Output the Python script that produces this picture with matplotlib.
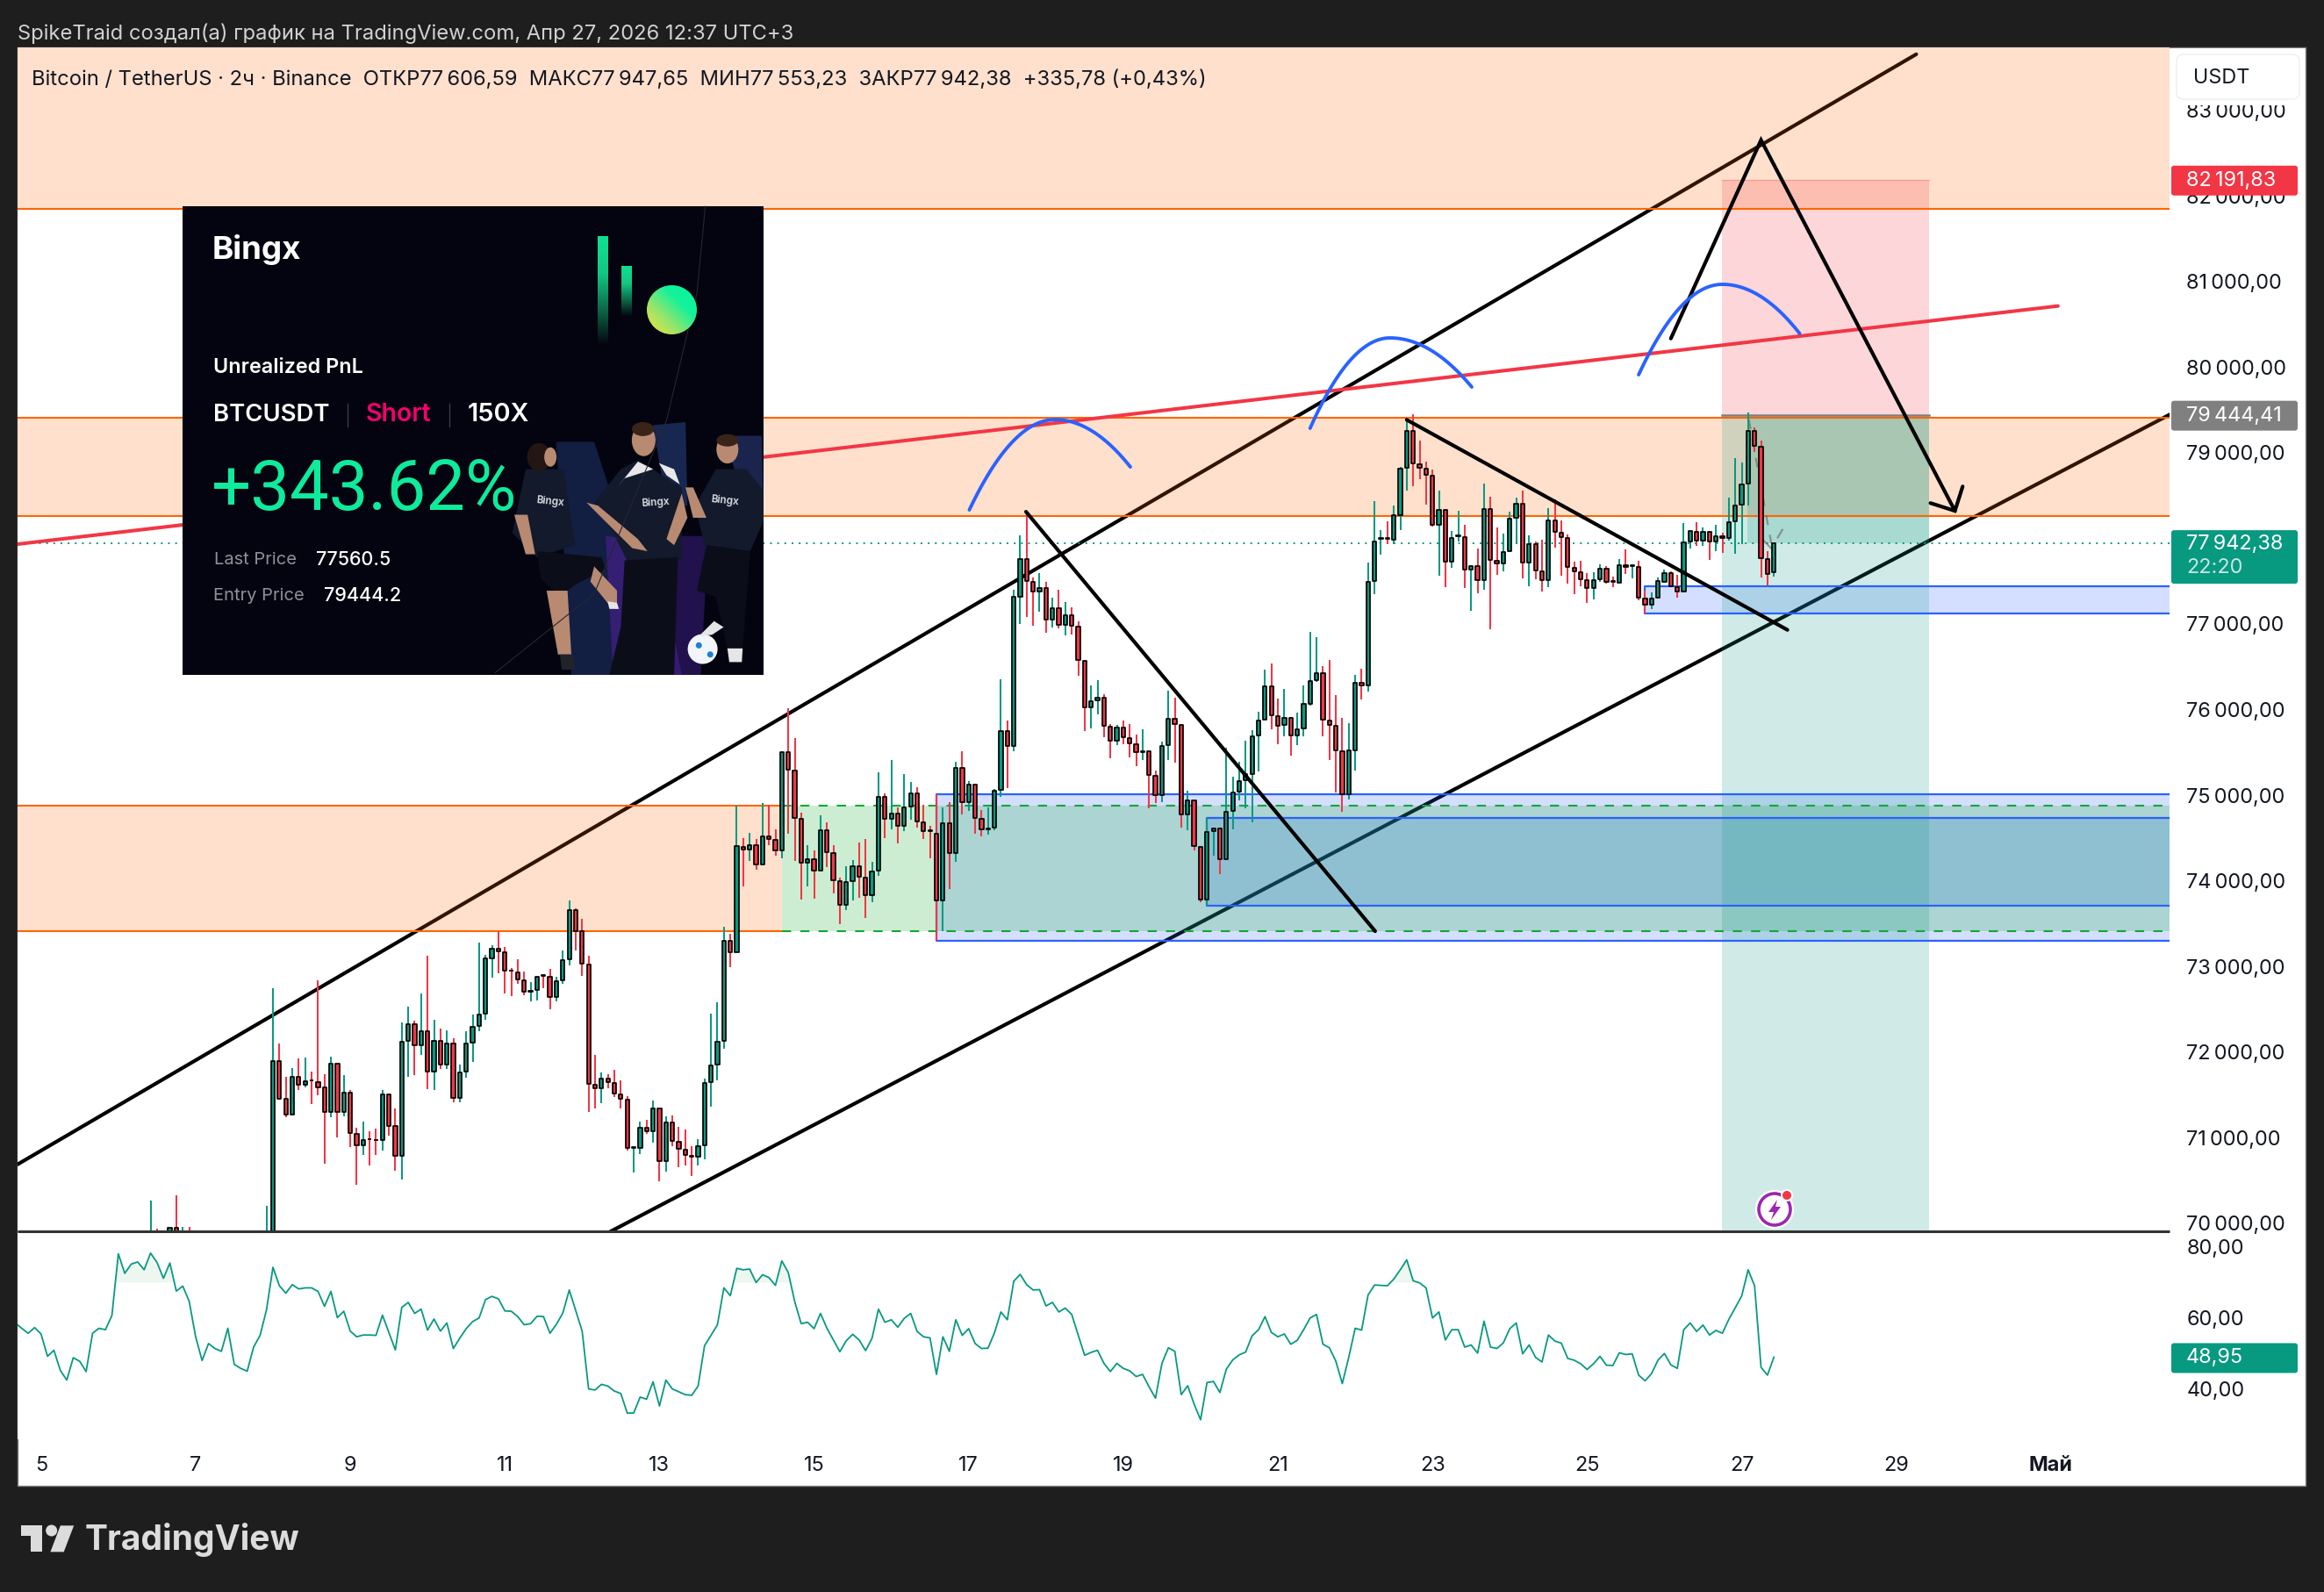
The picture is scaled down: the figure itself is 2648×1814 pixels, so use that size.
#!/usr/bin/env python3

"""
BTC/USDT 2h TradingView screenshot rebuilt with matplotlib
"""

import numpy as np
import matplotlib
matplotlib.use("Agg")
import matplotlib.pyplot as plt
from matplotlib.collections import LineCollection, PolyCollection
from matplotlib.colors import LinearSegmentedColormap
from matplotlib.patches import Circle, Ellipse, FancyBboxPatch, Polygon, Rectangle
from matplotlib.ticker import FuncFormatter

W, H = 2648, 1814
DARK = "#1e1e1e"
GREEN = "#089981"
RED = "#F23645"
ORANGE = "#FF6600"
BLUE = "#2962FF"
SANS = ["Inter", "DejaVu Sans"]

plt.rcParams["font.family"] = SANS

# candles, 2h bars, index 0 is the big green bar of Apr 8
opens = [69400, 71895, 71454, 71266, 71710, 71615, 71669, 71649, 71580, 71293, 71864, 71293, 71526, 71044, 70904, 70982, 70972, 70965, 71505, 71129, 70780, 72127, 72326, 72073, 72244, 71765, 72131, 71847, 72100, 71457, 71765, 72104, 72298, 72442, 73095, 73208, 73167, 72951, 72931, 72839, 72702, 72719, 72893, 72880, 72637, 72832, 73078, 73659, 73406, 73023, 71618, 71574, 71690, 71639, 71506, 71444, 70877, 70874, 71116, 71068, 71342, 70720, 71178, 70952, 70860, 70788, 70774, 70904, 71643, 71848, 72125, 73301, 73164, 74398, 74360, 74418, 74186, 74521, 74480, 74350, 75506, 75290, 74726, 74206, 74254, 74114, 74593, 74326, 73998, 73714, 73991, 74172, 74039, 73827, 74114, 74983, 74719, 74788, 74637, 74863, 75024, 74685, 74586, 74552, 73769, 74675, 74319, 75318, 74914, 75126, 74726, 74599, 74616, 75061, 75752, 75574, 77314, 77762, 77495, 77379, 77423, 77047, 77188, 76986, 77105, 76972, 76572, 76022, 76104, 76141, 75803, 75632, 75793, 75670, 75598, 75502, 75512, 75228, 74999, 75581, 75895, 75823, 74770, 74941, 74398, 73775, 74575, 74610, 74247, 74811, 75037, 75170, 75249, 75693, 75878, 76275, 75926, 75816, 75905, 75693, 75775, 76063, 76340, 76428, 75875, 75813, 75516, 75010, 75526, 76316, 76282, 77499, 77991, 78002, 77981, 78275, 78822, 79253, 78870, 78819, 78737, 78156, 78337, 77725, 78022, 78019, 77632, 77680, 77509, 78347, 77742, 77704, 77848, 78241, 78409, 77714, 77930, 77619, 77509, 78214, 78070, 78009, 77660, 77609, 77516, 77417, 77520, 77650, 77499, 77482, 77691, 77673, 77670, 77301, 77226, 77304, 77494, 77598, 77434, 77376, 77961, 78080, 77978, 78080, 77961, 78029, 78002, 78197, 78391, 78638, 79260, 79075, 77762, 77606]
closes = [71895, 71454, 71266, 71710, 71615, 71659, 71663, 71580, 71293, 71864, 71293, 71526, 71051, 70904, 70972, 70975, 70965, 71505, 71129, 70780, 72121, 72326, 72073, 72244, 71765, 72131, 71847, 72100, 71457, 71762, 72100, 72295, 72439, 73095, 73208, 73170, 72945, 72945, 72842, 72698, 72716, 72880, 72887, 72637, 72828, 73075, 73659, 73406, 73027, 71625, 71574, 71690, 71642, 71509, 71448, 70874, 70884, 71116, 71068, 71342, 70720, 71178, 70956, 70863, 70792, 70778, 70901, 71639, 71845, 72121, 73301, 73161, 74401, 74360, 74418, 74186, 74521, 74483, 74350, 75506, 75294, 74730, 74206, 74254, 74114, 74593, 74330, 74001, 73714, 73988, 74172, 74042, 73827, 74111, 74983, 74719, 74788, 74637, 74859, 75024, 74688, 74579, 74579, 73769, 74675, 74319, 75318, 74914, 75126, 74729, 74599, 74613, 75054, 75752, 75574, 77314, 77762, 77499, 77379, 77423, 77047, 77188, 76986, 77105, 76975, 76576, 76022, 76100, 76141, 75806, 75632, 75793, 75673, 75601, 75499, 75512, 75232, 74999, 75577, 75895, 75827, 74770, 74941, 74401, 73775, 74572, 74610, 74247, 74808, 75034, 75167, 75249, 75690, 75875, 76275, 75929, 75813, 75905, 75693, 75772, 76063, 76336, 76428, 75878, 75816, 75519, 75010, 75522, 76316, 76281, 77496, 77967, 78002, 77991, 78275, 78819, 79253, 78874, 78826, 78740, 78156, 78337, 77725, 78008, 78032, 77632, 77680, 77509, 78347, 77745, 77704, 77844, 78234, 78409, 77714, 77930, 77622, 77509, 78214, 78073, 78012, 77663, 77612, 77520, 77417, 77516, 77646, 77489, 77489, 77687, 77667, 77684, 77304, 77226, 77301, 77506, 77598, 77438, 77376, 77957, 78084, 77978, 78080, 77967, 78029, 78002, 78193, 78388, 78634, 79260, 79079, 77769, 77585, 77942]
highs = [72743, 72093, 71710, 71806, 71922, 71933, 71768, 72832, 71738, 71943, 71864, 71727, 71553, 71112, 71184, 71071, 71102, 71553, 71505, 71334, 72343, 72524, 72360, 72678, 73119, 72370, 72268, 72247, 72155, 71847, 72237, 72435, 73276, 73129, 73242, 73413, 73225, 72975, 73078, 72934, 72815, 72880, 72893, 72965, 72873, 73181, 73769, 73676, 73553, 73119, 71960, 71755, 71738, 71786, 71667, 71482, 70884, 71181, 71205, 71431, 71342, 71243, 71256, 71123, 71092, 70897, 70976, 71684, 72446, 72580, 73462, 73380, 74880, 74497, 74559, 74487, 74907, 74883, 74600, 75506, 76012, 75666, 74794, 74415, 74350, 74764, 74678, 74415, 74035, 74165, 74241, 74446, 74487, 74220, 75266, 75017, 75410, 74856, 75246, 75153, 75089, 74883, 74637, 75010, 74856, 74914, 75386, 75512, 75164, 75126, 74822, 74856, 75068, 76353, 75871, 77396, 78035, 78312, 77540, 77591, 77488, 77307, 77396, 77256, 77191, 77027, 76572, 76278, 76340, 76182, 75827, 75820, 75871, 75830, 75707, 75769, 75512, 75283, 75622, 76220, 76134, 75823, 75047, 74941, 74398, 74736, 74616, 74616, 75550, 75215, 75386, 75635, 75755, 75974, 76463, 76538, 76128, 76237, 75909, 75963, 76278, 76904, 76846, 76507, 76579, 76169, 75899, 75840, 76405, 76473, 77718, 78436, 78097, 78200, 78385, 78832, 79386, 79451, 79140, 78897, 78805, 78556, 78337, 78087, 78323, 78156, 77684, 77882, 78641, 78487, 78128, 78056, 78309, 78477, 78559, 78036, 77961, 77985, 78354, 78453, 78207, 78050, 77728, 77738, 77591, 77605, 77694, 77673, 77557, 77755, 77872, 77701, 77735, 77393, 77369, 77547, 77632, 77615, 77574, 78179, 78087, 78190, 78128, 78084, 78156, 78063, 78477, 78938, 78884, 79472, 79294, 79140, 77848, 77947]
lows = [69300, 71437, 71232, 71266, 71557, 71580, 71392, 71495, 70695, 71239, 71003, 71249, 70890, 70445, 70797, 70674, 70797, 70849, 71020, 70609, 70507, 71710, 71727, 71967, 71563, 71553, 71803, 71803, 71413, 71413, 71700, 71881, 72240, 72377, 72866, 72917, 72685, 72651, 72798, 72661, 72592, 72599, 72743, 72500, 72592, 72798, 73010, 73187, 72890, 71300, 71341, 71403, 71574, 71472, 71342, 70850, 70593, 70809, 71041, 70939, 70491, 70600, 70901, 70651, 70675, 70549, 70675, 70744, 71362, 71670, 72039, 72993, 73164, 73933, 74230, 74131, 74186, 74418, 74292, 74265, 74548, 74230, 73779, 73933, 73789, 74114, 74155, 73851, 73495, 73659, 73769, 73796, 73564, 73748, 74056, 74497, 74600, 74435, 74582, 74712, 74624, 74490, 74265, 73300, 73410, 73899, 74224, 74777, 74815, 74548, 74514, 74541, 74592, 74982, 75085, 75516, 76999, 77085, 76982, 77143, 76900, 76962, 76948, 76866, 76876, 76394, 75752, 75779, 75943, 75676, 75430, 75584, 75594, 75440, 75338, 75410, 74845, 74907, 74917, 75410, 75379, 74623, 74589, 74353, 73751, 73707, 74292, 74080, 74240, 74599, 74938, 74845, 74685, 75276, 75878, 75772, 75594, 75690, 75464, 75584, 75687, 76046, 76326, 75687, 75413, 75034, 74808, 74952, 75290, 76121, 76213, 77352, 77814, 77933, 77933, 78097, 78559, 78610, 78696, 78395, 78138, 77564, 77431, 77660, 77967, 77420, 77154, 77359, 77403, 76942, 77574, 77615, 77848, 77933, 77533, 77441, 77523, 77379, 77431, 77892, 77567, 77472, 77352, 77438, 77250, 77291, 77489, 77472, 77431, 77482, 77585, 77533, 77273, 77123, 77174, 77304, 77494, 77431, 77311, 77376, 77882, 77916, 77916, 77752, 77855, 77831, 77978, 77824, 77933, 78385, 79010, 77547, 77448, 77553]

# bars left of index 0, only their tips show above the bottom of the pane
early_idx = [-19, -18, -16, -15, -14, -13, -1]
early_opens = [69600, 69700, 69700, 69943, 69700, 69800, 69600]
early_closes = [69700, 69600, 69943, 69700, 69800, 69700, 69908]
early_highs = [70257, 69932, 69943, 70326, 69950, 69950, 70199]
early_lows = [69500, 69500, 69600, 69600, 69600, 69600, 69500]

# RSI, one value per bar from index -40 to 233
rsi_values = [58.6, 57.1, 55.7, 57.3, 55.5, 49.2, 50.9, 45.2, 42.5, 48.8, 47.8, 44.9, 55.7, 57.1, 56.7, 60.7, 78.1, 72.6, 75.2, 75.8, 73.6, 78.3, 75.7, 71.2, 75.5, 67.6, 69.0, 64.7, 54.7, 48.0, 52.8, 51.4, 50.6, 57.1, 46.9, 45.8, 45.0, 51.8, 55.1, 62.3, 74.3,
              69.1, 67.0, 69.4, 68.2, 68.5, 68.5, 67.5, 63.3, 67.5, 60.1, 61.9, 56.3, 54.7, 55.2, 55.2, 55.1, 60.8, 55.9, 51.0, 63.0, 64.4, 61.3, 62.5, 56.6, 59.7, 56.3, 58.6, 51.4, 54.3, 57.0, 59.0, 60.0, 65.2, 66.1, 65.4, 62.0, 61.9, 60.4, 58.1, 58.4, 60.5, 60.4, 55.7, 58.2, 61.4, 67.9, 62.1, 56.3, 40.0, 39.7, 41.3, 40.8, 39.4, 38.7, 33.2, 33.2, 37.7, 37.1, 42.0, 35.2, 42.5, 40.0, 39.2, 38.4, 38.2, 40.8, 52.2, 55.1, 58.1, 68.5, 66.3, 74.0, 73.6, 73.8, 70.0, 72.2, 71.4, 69.2, 76.1, 72.8, 64.6, 58.4, 58.8, 57.0, 61.3, 57.1, 53.8, 50.5, 53.6, 55.4, 53.8, 50.8, 54.3, 62.5,
              58.8, 59.5, 57.4, 59.9, 61.3, 56.2, 54.7, 54.4, 44.1, 54.7, 50.6, 59.5, 55.1, 57.0, 52.8, 51.4, 51.5, 55.8, 61.7, 59.5, 70.4, 72.3, 69.4, 67.9, 68.0, 63.4, 64.4, 61.7, 62.8, 61.0, 55.2, 49.5, 50.3, 50.9, 47.2, 44.9, 47.2, 45.8, 45.1, 43.5, 44.1, 40.6, 37.4, 47.2, 51.6, 50.6, 38.4, 40.9, 35.7, 31.3, 41.8, 42.1, 39.0, 45.6, 48.2, 49.6, 50.4, 55.0, 56.7, 60.4, 55.9, 54.7, 55.5, 52.6, 53.7, 56.7, 60.0, 61.0, 52.6, 51.6, 47.8, 41.5, 48.9, 57.1, 56.6, 66.5, 69.3, 69.2, 69.1, 71.0, 73.6, 76.4, 70.5, 69.9, 68.5, 60.0, 61.7, 53.8, 56.7, 56.7, 51.8, 52.4, 50.1, 59.1, 51.8, 51.4, 53.0, 57.0, 58.6, 49.9, 52.4, 48.9, 47.6, 55.2, 53.5, 52.9, 48.6, 48.1, 47.1, 45.5, 47.1, 49.2, 46.7, 46.6, 50.2, 49.7, 49.9, 43.9, 42.3, 44.3, 48.1, 50.0, 46.8, 45.8, 56.7, 58.6, 56.2, 58.0, 55.2, 56.5, 55.7, 59.6, 62.9, 66.2, 73.6, 69.1, 46.1, 43.9, 48.95]

price_ticks = list(range(70000, 84000, 1000))
rsi_ticks = [40, 60, 80]
day_labels = ["5", "7", "9", "11", "13", "15", "17", "19", "21", "23", "25", "27", "29", "Май"]
day_positions = [-36 + 24 * i for i in range(len(day_labels))]

# drawn levels, in price
ZONE_TOP = (81856, 83738)
ZONE_MID = (78265, 79414)
ZONE_LOW = (73410, 74880)
BLUE_BOXES = [(1066.8, 73297, 75010), (1375, 73707, 74736), (1874, 77126, 77444)]
SL_PRICE = 82191.83
ENTRY_PRICE = 79444.41
LAST_PRICE = 77942.38


def comma_price(v, pos=None):
    s = f"{int(round(v)):,}".replace(",", "\u2009")
    return s + ",00"


def px_to_idx(x):
    return (x - 311) / 7.34


fig = plt.figure(figsize=(W / 100, H / 100), dpi=100, facecolor=DARK)


def pane(x0, y0, x1, y1, z):
    return fig.add_axes([x0 / W, 1 - y1 / H, (x1 - x0) / W, (y1 - y0) / H], zorder=z)


bg = pane(0, 0, W, H, 0)
bg.set_xlim(0, W)
bg.set_ylim(H, 0)
bg.axis("off")
bg.add_patch(Rectangle((20, 54), 2607, 1639, fc="white", ec="#7c7c7c", lw=1))

ax = pane(20, 54, 2472, 1403, 2)
ax_rsi = pane(20, 1404, 2472, 1640, 2)
over = pane(0, 0, W, H, 5)
over.patch.set_alpha(0)
over.axis("off")

xlim = (px_to_idx(20), px_to_idx(2472))
ax.set_xlim(*xlim)
ax.set_ylim(69903, 83738)
ax_rsi.set_xlim(*xlim)
ax_rsi.set_ylim(25.8, 84.2)

for a in (ax, ax_rsi):
    for side in a.spines.values():
        side.set_visible(False)
    a.yaxis.tick_right()
    a.tick_params(axis="y", length=0, pad=14, labelsize=16.9, labelcolor="#131722")
    a.tick_params(axis="x", length=0)

ax.set_xticks([])
ax.set_yticks(price_ticks)
ax.yaxis.set_major_formatter(FuncFormatter(comma_price))
ax_rsi.set_yticks(rsi_ticks)
ax_rsi.set_yticklabels([f"{v},00" for v in rsi_ticks])
ax_rsi.set_xticks(day_positions)
ax_rsi.set_xticklabels(day_labels)
ax_rsi.tick_params(axis="x", pad=14, labelsize=16.9, labelcolor="#131722")
ax_rsi.get_xticklabels()[-1].set_fontweight("bold")

# channel and red trend line sit under the translucent zones
ax.plot([xlim[0], 255.1], [70685, 83658], color="black", lw=3, zorder=1, solid_capstyle="round")
ax.plot([52, xlim[1]], [69885, 79446], color="black", lw=3, zorder=1)
ax.plot([xlim[0], 277.1], [77933, 80716], color=RED, lw=2.9, zorder=3.5, solid_capstyle="round")

# orange zones
for low, high in (ZONE_TOP, ZONE_MID):
    ax.axhspan(low, high, color=ORANGE, alpha=0.2, lw=0, zorder=2)
    ax.axhline(low, color=ORANGE, lw=1.5, zorder=3)
ax.axhline(ZONE_MID[1], color=ORANGE, lw=1.5, zorder=3)
ax.fill_between([xlim[0], 79], *ZONE_LOW, color=ORANGE, alpha=0.2, lw=0, zorder=2)
ax.plot([xlim[0], 79], [ZONE_LOW[0]] * 2, color=ORANGE, lw=1.5, zorder=3)
ax.plot([xlim[0], 79], [ZONE_LOW[1]] * 2, color=ORANGE, lw=1.5, zorder=3)

# green zone with dashed edges
ax.fill_between([79, xlim[1]], *ZONE_LOW, color="#08A81E", alpha=0.2, lw=0, zorder=2.2)
for level in ZONE_LOW:
    ax.plot([79, xlim[1]], [level] * 2, color="#12A832", lw=1.5, ls=(0, (5, 5)), zorder=3)

# blue boxes run off the right side
for left_px, low, high in BLUE_BOXES:
    left = px_to_idx(left_px)
    ax.add_patch(Rectangle((left, low), xlim[1] + 5 - left, high - low, fc=BLUE, alpha=0.2, lw=0, zorder=2.1))
    ax.plot([xlim[1] + 5, left, left, xlim[1] + 5], [high, high, low, low], color=BLUE, lw=1.6, zorder=3)

# short position tool
pos_left, pos_right = px_to_idx(1961.7), px_to_idx(2198)
ax.fill_between([pos_left, pos_right], ENTRY_PRICE, SL_PRICE, color=RED, alpha=0.2, lw=0, zorder=2.3)
ax.fill_between([pos_left, pos_right], 69903, ENTRY_PRICE, color=GREEN, alpha=0.19, lw=0, zorder=2.3)
ax.fill_between([px_to_idx(1991), pos_right], LAST_PRICE, ENTRY_PRICE, color=GREEN, alpha=0.2, lw=0, zorder=2.3)
ax.plot([pos_left, pos_right], [ENTRY_PRICE] * 2, color="#808080", lw=1.8, zorder=2.9)
ax.plot([pos_left, pos_right], [SL_PRICE] * 2, color=RED, lw=1, alpha=0.25, zorder=2.9)

# last price
ax.axhline(LAST_PRICE, color=GREEN, lw=1.4, ls=(0, (1, 3.2)), zorder=3.2)

# faint path of the position tool
ax.plot([229.1, 232.6], [79389, 77942], color="#6b5a50", alpha=0.55, lw=1.6, ls=(0, (5, 5)), zorder=3.3)
ax.plot([231.0, 232.5], [78005, 77890], color="#6b5a50", alpha=0.55, lw=1.6, zorder=3.3)
ax.plot([233.6, 234.3], [78010, 78100], color="#6b5a50", alpha=0.55, lw=1.6, zorder=3.3)

# candles
all_idx = np.array(early_idx + list(range(len(opens))))
all_open = np.array(early_opens + opens, dtype=float)
all_close = np.array(early_closes + closes, dtype=float)
all_high = np.array(early_highs + highs, dtype=float)
all_low = np.array(early_lows + lows, dtype=float)
up = all_close >= all_open
colors = [GREEN if u else RED for u in up]

wicks = [[(i, l), (i, h)] for i, l, h in zip(all_idx, all_low, all_high)]
ax.add_collection(LineCollection(wicks, colors=colors, linewidths=1.45, zorder=4, capstyle="butt"))

half = 0.29
bodies = []
for i, o, c in zip(all_idx, all_open, all_close):
    bodies.append([(i - half, o), (i + half, o), (i + half, c), (i - half, c)])
ax.add_collection(PolyCollection(bodies, facecolors=colors, edgecolors="black", linewidths=1.25, zorder=4.2))

# hand drawn lines on top of the candles
ax.plot([116.9, 171.1], [78312, 73410], color="black", lw=3, zorder=5, solid_capstyle="round")
ax.plot([176, 235.1], [79386, 76931], color="black", lw=3, zorder=5, solid_capstyle="round")
ax.plot([217, 231, 261.1], [80336, 82655, 78322], color="black", lw=3, zorder=5, solid_capstyle="round", solid_joinstyle="miter")
ax.plot([257.3, 261.1, 262.3], [78413, 78322, 78607], color="black", lw=3, zorder=5, solid_capstyle="round", solid_joinstyle="miter")


def arc(x0, y0, xp, yp, x1, y1):
    xa = np.linspace(x0, xp, 30)
    ya = yp - (yp - y0) * ((xa - xp) / (x0 - xp)) ** 2
    xb = np.linspace(xp, x1, 30)
    yb = yp - (yp - y1) * ((xb - xp) / (x1 - xp)) ** 2
    ax.plot(np.r_[xa, xb], np.r_[ya, yb], color=BLUE, lw=2.8, zorder=5, solid_capstyle="round")


arc(108.1, 78333, 121.4, 79389, 133.1, 78835)
arc(161.0, 79287, 173.4, 80343, 186.1, 79769)
arc(212.0, 79912, 225.0, 80969, 237.0, 80394)

# RSI pane
rsi_x = np.arange(-40, len(rsi_values) - 40)
rsi_y = np.array(rsi_values)
ax_rsi.plot(rsi_x, rsi_y, color=GREEN, lw=1.3, zorder=3)
ax_rsi.fill_between(rsi_x, 70, rsi_y, where=rsi_y > 70, interpolate=True, color="#4caf50", alpha=0.09, lw=0)

# pane separator
over.plot([20, 2472], [1403, 1403], color="#333333", lw=2.2, solid_capstyle="butt")


# price tags, placed from the axes scale
def py(a, value):
    return H - a.transData.transform((0, value))[1]


def tag(y0, y1, color):
    over.add_patch(FancyBboxPatch((2476, y0 + 2), 140, y1 - y0 - 4, boxstyle="round,pad=2,rounding_size=3", fc=color, ec="none"))


# white strip that hides the top of the 83 000 label, then the currency button
over.add_patch(Rectangle((2473, 55), 153, 65, fc="white", ec="none"))
over.add_patch(FancyBboxPatch((2484, 66), 132, 43, boxstyle="round,pad=4,rounding_size=8", fc="white", ec="#eeeeee", lw=1))
over.text(2499, 89, "USDT", fontsize=16.9, va="center", color="#131722")

y = py(ax, SL_PRICE)
tag(y - 16, y + 18, RED)
over.text(2491, y + 1, "82\u2009191,83", fontsize=16.9, color="white", va="center")
y = py(ax, ENTRY_PRICE)
tag(y - 16, y + 18, "#808080")
over.text(2491, y + 1, "79\u2009444,41", fontsize=16.9, color="white", va="center")
y = py(ax, LAST_PRICE)
tag(y - 15, y + 46, GREEN)
over.text(2491, y + 1, "77\u2009942,38", fontsize=16.9, color="white", va="center")
over.text(2491, y + 28, "22:20", fontsize=16.9, color="#c4e8e0", va="center")
y = py(ax_rsi, rsi_values[-1])
tag(y - 16, y + 18, GREEN)
over.text(2491, y + 1, "48,95", fontsize=16.9, color="white", va="center")

# header lines
over.text(20, 38, "SpikeTraid создал(а) график на TradingView.com, Апр 27, 2026 12:37 UTC+3", fontsize=17.1, color="#d1d1d1", va="center")
over.text(36, 91, "Bitcoin / TetherUS · 2ч · Binance  ОТКР77\u2009606,59  МАКС77\u2009947,65  МИН77\u2009553,23  ЗАКР77\u2009942,38  +335,78 (+0,43%)", fontsize=17.1, color="#131722", va="center")

# TradingView logo
logo = "#dcdcdc"


def lx(x):
    return x / 1.568


def ly(y):
    return 1390 + y / 3


over.add_patch(Polygon([(lx(38), ly(1045)), (lx(76), ly(1045)), (lx(76), ly(1135)), (lx(55), ly(1135)), (lx(55), ly(1080)), (lx(38), ly(1080))], fc=logo, ec="none"))
over.add_patch(Circle((lx(92), ly(1062)), 6.5, fc=logo, ec="none"))
over.add_patch(Polygon([(lx(108), ly(1045)), (lx(132), ly(1045)), (lx(114), ly(1135)), (lx(90), ly(1135))], fc=logo, ec="none"))
over.text(97, 1755, "TradingView", fontsize=28.1, fontweight="bold", color=logo, va="center")

# lightning badge
over.add_patch(Circle((2022, 1378), 20, fc="white", ec="white", lw=3))
over.add_patch(Circle((2022, 1378), 18, fc="white", ec="#9C27B0", lw=2.6))
over.add_patch(Polygon([(2025, 1367), (2015, 1381), (2021, 1381), (2018, 1390), (2029, 1375), (2023, 1375)], fc="#9C27B0", ec="none"))
over.add_patch(Circle((2036, 1362), 6, fc=RED, ec="white", lw=1.4))

# BingX share card
card = "#03040F"


def bx(x):
    return 200 + x / 2.306


def by(y):
    return 230 + y / 2.889


def bpoly(points, color, alpha=1.0):
    over.add_patch(Polygon([(bx(a), by(b)) for a, b in points], fc=color, ec="none", alpha=alpha))


over.add_patch(Rectangle((208, 235), 662, 534, fc=card, ec="none"))
over.plot([bx(1392), bx(1370), bx(1290), bx(1100), bx(840)], [by(15), by(300), by(720), by(1290), by(1550)], color="#26262e", lw=0.8)

# purple and blue motion trails behind the players
bpoly([(1000, 790), (1100, 790), (1180, 1100), (1240, 1557), (1040, 1557), (1020, 1150)], "#22356f", 0.55)
bpoly([(1130, 1100), (1260, 1120), (1330, 1557), (1150, 1557)], "#43208a", 0.7)
bpoly([(1255, 735), (1340, 725), (1345, 1000), (1290, 1000)], "#26407c", 0.6)
bpoly([(1440, 770), (1540, 770), (1545, 1000), (1500, 1000)], "#2a3a78", 0.6)
bpoly([(1310, 1100), (1400, 1100), (1380, 1557), (1300, 1557)], "#3b1d80", 0.55)

shirt = "#121a2c"
pants = "#0b0e18"
skin = "#b88a72"
hair = "#241713"

# left player
bpoly([(920, 880), (1020, 880), (1050, 1130), (950, 1170), (885, 1090)], shirt)
bpoly([(950, 1150), (1120, 1170), (1130, 1210), (1050, 1260), (1010, 1300), (960, 1240)], pants)
bpoly([(975, 1280), (1030, 1280), (1040, 1490), (1005, 1490)], skin)
bpoly([(1100, 1200), (1160, 1280), (1160, 1340), (1135, 1320), (1090, 1250)], skin)
bpoly([(890, 1030), (925, 1030), (945, 1160), (920, 1160)], skin)
over.add_patch(Ellipse((bx(955), by(840)), 27, 32, fc=hair, ec="none"))
over.add_patch(Ellipse((bx(985), by(840)), 14, 22, fc=skin, ec="none"))

# middle player
bpoly([(1215, 850), (1330, 940), (1330, 1180), (1190, 1190), (1150, 1090), (1100, 990), (1170, 880)], shirt)
bpoly([(1180, 1180), (1320, 1170), (1310, 1557), (1140, 1557), (1170, 1400)], pants)
bpoly([(1080, 990), (1110, 1000), (1215, 1110), (1240, 1150), (1200, 1140)], skin)
bpoly([(1330, 960), (1345, 1040), (1310, 1130), (1290, 1110)], skin)
bpoly([(1160, 940), (1215, 855), (1255, 880), (1180, 910)], "#e8e8ea")
bpoly([(1270, 860), (1310, 880), (1325, 930), (1290, 900)], "#e8e8ea")
over.add_patch(Ellipse((bx(1230), by(785)), 27, 36, fc=skin, ec="none"))
over.add_patch(Ellipse((bx(1228), by(748)), 25, 16, fc="#3a2419", ec="none"))

# right player
bpoly([(1420, 880), (1500, 880), (1545, 950), (1545, 1050), (1510, 1150), (1390, 1130), (1365, 1000)], shirt)
bpoly([(1395, 1130), (1510, 1150), (1490, 1470), (1450, 1470), (1420, 1300), (1370, 1280)], pants)
bpoly([(1340, 940), (1360, 940), (1395, 1040), (1360, 1040)], skin)
over.add_patch(Ellipse((bx(1450), by(815)), 25, 32, fc=skin, ec="none"))
over.add_patch(Ellipse((bx(1450), by(785)), 25, 14, fc="#3a2419", ec="none"))

# ball and boots
over.add_patch(Ellipse((bx(1385), by(1472)), 34, 34, fc="#f2f6fa", ec="none"))
over.add_patch(Ellipse((bx(1375), by(1460)), 7, 7, fc="#1c7fd6", ec="none"))
over.add_patch(Ellipse((bx(1405), by(1490)), 7, 7, fc="#1c7fd6", ec="none"))
bpoly([(1375, 1430), (1415, 1380), (1440, 1400), (1410, 1425)], "#e6e6e6")
bpoly([(1450, 1470), (1490, 1470), (1488, 1515), (1455, 1515)], "#e6e6e6")
bpoly([(1010, 1490), (1045, 1490), (1050, 1540), (1015, 1540)], "#20242a")
bpoly([(1135, 1315), (1160, 1320), (1165, 1340), (1140, 1340)], "#e6e6e6")

for tx, ty in ((983, 988), (1260, 990), (1442, 984)):
    over.text(bx(tx), by(ty), "Bingx", fontsize=8.5, fontweight="semibold", color="#d9dde2", ha="center", va="center", rotation=4 if tx == 1260 else -6)

# green bars and dot, simple gradients
fade = LinearSegmentedColormap.from_list("fade", [card, "#0c6a48", "#13c884", "#10e090"])
grad = np.linspace(1, 0, 64).reshape(-1, 1)
over.imshow(grad, extent=(681, 693, 394, 269), cmap=fade, aspect="auto", zorder=3)
over.imshow(grad, extent=(708, 720, 361, 303), cmap=fade, aspect="auto", zorder=3)
dot_cmap = LinearSegmentedColormap.from_list("dot", ["#F4E23A", "#9BE46A", "#12F29B", "#06F59B"])
gx, gy = np.meshgrid(np.linspace(0, 1, 80), np.linspace(1, 0, 80))
im = over.imshow((gx + gy) / 2, extent=(737, 794, 381, 325), cmap=dot_cmap, aspect="auto", zorder=3)
im.set_clip_path(Ellipse((765.5, 353), 57, 56, transform=over.transData))
over.set_xlim(0, W)
over.set_ylim(H, 0)

over.text(242, 285, "Bingx", fontsize=26.5, fontweight="bold", color="white", va="center")
over.text(243, 419, "Unrealized PnL", fontsize=16.8, fontweight="semibold", color="white", va="center")
over.text(243, 473, "BTCUSDT", fontsize=19.8, fontweight="semibold", color="white", va="center")
over.plot([396, 396], [460, 486], color="#3a3c48", lw=1)
over.plot([512, 512], [460, 486], color="#3a3c48", lw=1)
over.text(417, 473, "Short", fontsize=20.5, fontweight="semibold", color="#F5006E", va="center")
over.text(533, 473, "150X", fontsize=20.8, fontweight="semibold", color="white", va="center")
over.text(241, 559, "+343.62%", fontsize=57.3, family=["Roboto", "DejaVu Sans"], color="#0EEB9C", va="center")
over.text(244, 638, "Last Price", fontsize=14.5, color="#8f9096", va="center")
over.text(360, 638, "77560.5", fontsize=15.5, fontweight="medium", color="white", va="center")
over.text(243, 679, "Entry Price", fontsize=14.5, color="#8f9096", va="center")
over.text(369, 679, "79444.2", fontsize=15.5, fontweight="medium", color="white", va="center")

fig.savefig("out.png", dpi=100, facecolor=DARK)
